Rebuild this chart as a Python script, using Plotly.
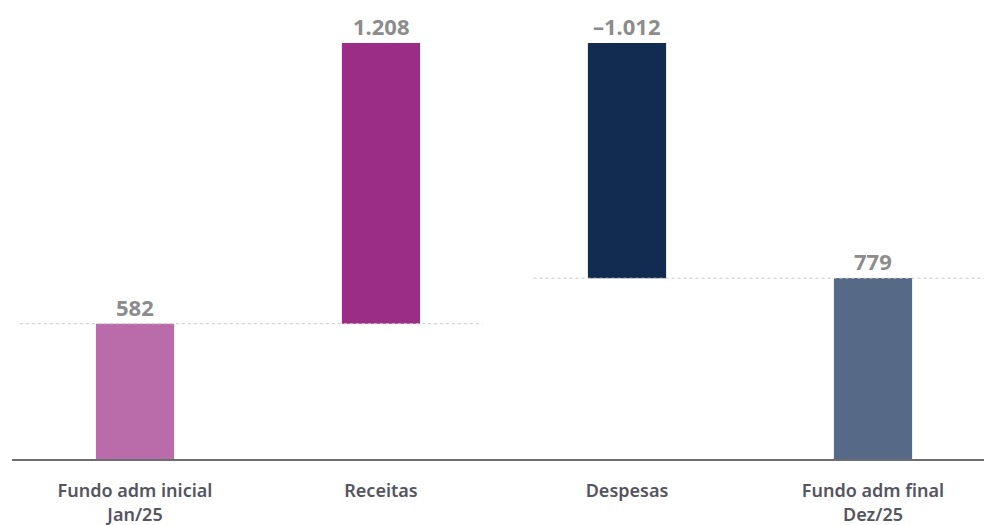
import plotly.graph_objects as go

categories = ["Fundo adm inicial<br>Jan/25", "Receitas", "Despesas", "Fundo adm final<br>Dez/25"]
values = [582, 1208, -1012, 779]
kinds = ["absolute", "relative", "relative", "absolute"]
colors = ["#BA6BAA", "#9B2D86", "#112B51", "#566A87"]

# compute bases / heights from the data
bases, heights, tops = [], [], []
running = 0
for v, k in zip(values, kinds):
    if k == "absolute":
        base, h = 0, v
        running = v
    else:
        start = running
        running = running + v
        base = min(start, running)
        h = abs(v)
    bases.append(base)
    heights.append(h)
    tops.append(base + h)

def fmt(v):
    s = f"{abs(v):,}".replace(",", ".")
    return ("–" + s) if v < 0 else s

fig = go.Figure()
fig.add_trace(go.Bar(
    x=categories, y=heights, base=bases,
    marker=dict(color=colors, line=dict(width=0)),
    width=0.318, hoverinfo="skip",
))

for c, t, v in zip(categories, tops, values):
    fig.add_annotation(x=c, y=t, text=f"<b>{fmt(v)}</b>", showarrow=False,
                       yanchor="bottom", yshift=1, borderpad=0,
                       font=dict(family="Noto Sans", size=22, color="#8C8C8C"))

# dotted connector lines at the running levels
fig.add_shape(type="line", xref="paper", yref="y", x0=0.008, x1=0.478,
              y0=tops[0], y1=tops[0], line=dict(color="#C8C8C8", width=1, dash="dot"))
fig.add_shape(type="line", xref="paper", yref="y", x0=0.53, x1=0.992,
              y0=bases[2], y1=bases[2], line=dict(color="#C8C8C8", width=1, dash="dot"))

fig.update_layout(
    width=992, height=525,
    margin=dict(l=4, r=4, t=35, b=74),
    paper_bgcolor="white", plot_bgcolor="white",
    showlegend=False,
    font=dict(family="Noto Sans"),
    xaxis=dict(showgrid=False, showline=True, linecolor="#6E6E6E", linewidth=1.5,
               ticks="", ticklabelstandoff=15, automargin=False,
               tickfont=dict(family="Noto Sans", size=18, color="#55555F", weight=600)),
    yaxis=dict(range=[0, max(tops)], visible=False, showgrid=False, zeroline=False),
)

fig.write_html("out.html")
